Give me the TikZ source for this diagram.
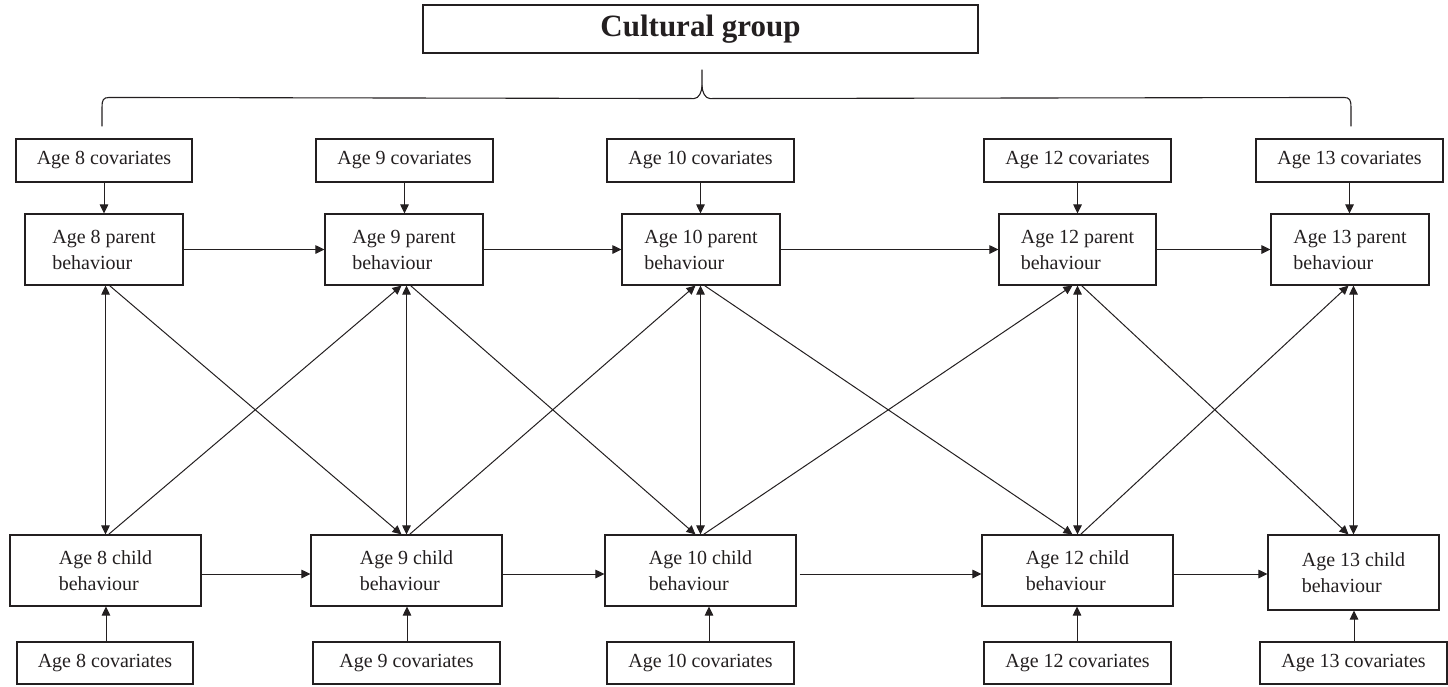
\documentclass[tikz,border=0pt]{standalone}
\usepackage{fontspec}
\setmainfont{Liberation Serif}
\usetikzlibrary{arrows.meta,calc}
\definecolor{ink}{RGB}{35,31,32}
\begin{document}
\begin{tikzpicture}[x=1pt,y=-1pt,
  box/.style={draw=ink,line width=1.1pt,rectangle,inner sep=0pt,align=left,text=ink,font=\fontsize{20}{26}\selectfont},
  covbox/.style={box,minimum height=43pt},
  behbox/.style={box,minimum height=71pt},
  arr/.style={draw=ink,line width=1pt,-{Triangle[length=9pt,width=8.5pt]}},
  darr/.style={draw=ink,line width=1pt,{Triangle[length=9pt,width=8.5pt]}-{Triangle[length=9pt,width=8.5pt]}},
  bracepath/.style={draw=ink,line width=1.1pt}]
\useasboundingbox (0,0) rectangle (1448,686);

% title
\node[box,minimum width=555pt,minimum height=48pt,font=\fontsize{31}{36}\selectfont\bfseries] (title) at (700.5,29) {Cultural group};

% top covariates
\node[covbox,minimum width=176pt] (tc8) at (104,160.5) {\raisebox{-2pt}{Age 8 covariates}};
\node[covbox,minimum width=177pt] (tc9) at (404.5,160.5) {\raisebox{-2pt}{Age 9 covariates}};
\node[covbox,minimum width=187pt] (tc10) at (700.5,160.5) {\raisebox{-2pt}{Age 10 covariates}};
\node[covbox,minimum width=187pt] (tc12) at (1077.5,160.5) {\raisebox{-2pt}{Age 12 covariates}};
\node[covbox,minimum width=187pt] (tc13) at (1349.5,160.5) {\raisebox{-2pt}{Age 13 covariates}};

% parent behaviour
\node[behbox,minimum width=158pt] (p8) at (104,249.5) {Age 8 parent\\behaviour};
\node[behbox,minimum width=158pt] (p9) at (404,249.5) {Age 9 parent\\behaviour};
\node[behbox,minimum width=158pt] (p10) at (701,249.5) {Age 10 parent\\behaviour};
\node[behbox,minimum width=157pt] (p12) at (1077.5,249.5) {Age 12 parent\\behaviour};
\node[behbox,minimum width=158pt] (p13) at (1350,249.5) {Age 13 parent\\behaviour};

% child behaviour
\node[behbox,minimum width=191pt] (c8) at (105.5,570.5) {Age 8 child\\behaviour};
\node[behbox,minimum width=191pt] (c9) at (406.5,570.5) {Age 9 child\\behaviour};
\node[behbox,minimum width=191pt] (c10) at (700.5,570.5) {Age 10 child\\behaviour};
\node[behbox,minimum width=191pt] (c12) at (1077.5,570.5) {Age 12 child\\behaviour};
\node[box,minimum width=171pt,minimum height=75pt] (c13) at (1353.5,572.5) {Age 13 child\\behaviour};

% bottom covariates
\node[box,minimum width=176pt,minimum height=42pt] (bc8) at (105,663) {\raisebox{-2pt}{Age 8 covariates}};
\node[box,minimum width=187pt,minimum height=42pt] (bc9) at (406.5,663) {\raisebox{-2pt}{Age 9 covariates}};
\node[box,minimum width=187pt,minimum height=42pt] (bc10) at (700.5,663) {\raisebox{-2pt}{Age 10 covariates}};
\node[box,minimum width=187pt,minimum height=42pt] (bc12) at (1077.5,663) {\raisebox{-2pt}{Age 12 covariates}};
\node[box,minimum width=187pt,minimum height=42pt] (bc13) at (1353.5,663) {\raisebox{-2pt}{Age 13 covariates}};

% brace
\coordinate (bl) at ($(tc8.north)+(-2,-12)$);
\coordinate (br) at ($(tc13.north)+(1.5,-12)$);
\coordinate (tip) at ($(title.south)+(1.5,16)$);
\draw[bracepath] (bl) -- ++(0,-19) .. controls ++(0,-7) and ++(-6,0) .. ++(7,-10)
  -- ($(tip)+(-8,29)$) .. controls ++(5,0) and ++(0,6) .. ($(tip)+(0,16)$) -- (tip);
\draw[bracepath] ($(tip)+(0,16)$) .. controls ++(0,6) and ++(-5,0) .. ($(tip)+(8,29)$)
  -- ($(br)+(-7,-29)$) .. controls ++(6,0) and ++(0,-7) .. ($(br)+(0,-19)$) -- (br);

% covariates -> parent
\foreach \i in {8,9,10,12,13}{
  \draw[arr] (tc\i.south) -- (tc\i.south |- p\i.north);
}
% covariates -> child
\foreach \i/\d in {8/1,9/0.5,10/8.5,12/-0.5,13/0.5}{
  \draw[arr] ($(bc\i.north)+(\d,0)$) -- ($(bc\i.north |- c\i.south)+(\d,0)$);
}
% parent <-> child
\foreach \i in {8,9,10,12,13}{
  \draw[darr] (c\i.north |- p\i.south) -- (c\i.north);
}
% parent row
\draw[arr] (p8.east) -- (p9.west);
\draw[arr] (p9.east) -- (p10.west);
\draw[arr] (p10.east) -- (p12.west);
\draw[arr] (p12.east) -- (p13.west);
% child row
\coordinate (h8) at ($(c8.east)+(0,3.5)$);
\coordinate (h9) at ($(c9.east)+(0,3.5)$);
\coordinate (h10) at ($(c10.east)+(3,3.5)$);
\coordinate (h12) at ($(c12.east)+(0,3.5)$);
\draw[arr] (h8) -- (h8 -| c9.west);
\draw[arr] (h9) -- (h9 -| c10.west);
\draw[arr] (h10) -- (h10 -| c12.west);
\draw[arr] (h12) -- (h12 -| c13.west);
% diagonals
\foreach \a/\b in {8/9,9/10,10/12,12/13}{
  \draw[arr] ($(c\a.north |- p\a.south)+(4,0)$) -- ($(c\b.north)+(-5,0)$);
  \draw[arr] ($(c\a.north)+(3,0)$) -- ($(c\b.north |- p\b.south)+(-5,0)$);
}
\end{tikzpicture}
\end{document}
